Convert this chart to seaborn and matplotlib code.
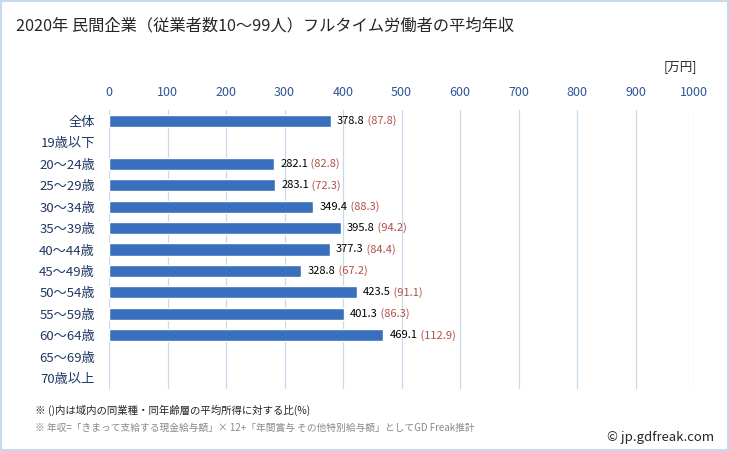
import numpy as np
import pandas as pd
import matplotlib
matplotlib.use("Agg")
import matplotlib.pyplot as plt
import seaborn as sns

# data
categories = ["全体", "19歳以下", "20～24歳", "25～29歳", "30～34歳", "35～39歳", "40～44歳",
              "45～49歳", "50～54歳", "55～59歳", "60～64歳", "65～69歳", "70歳以上"]
income = [378.8, np.nan, 282.1, 283.1, 349.4, 395.8, 377.3, 328.8, 423.5, 401.3, 469.1, np.nan, np.nan]
ratio = [87.8, np.nan, 82.8, 72.3, 88.3, 94.2, 84.4, 67.2, 91.1, 86.3, 112.9, np.nan, np.nan]
xticks = [0, 100, 200, 300, 400, 500, 600, 700, 800, 900, 1000]

df = pd.DataFrame({"age": categories, "income": income, "ratio": ratio})

sns.set_style("white")
plt.rcParams["font.family"] = ["Noto Sans CJK JP", "DejaVu Sans"]

fig = plt.figure(figsize=(7.29, 4.51), dpi=100)
ax = fig.add_axes([109 / 729, 1 - 389 / 451, 585 / 729, 279 / 451])

sns.barplot(data=df, x="income", y="age", orient="h", color="#3A6FBD",
            width=0.56, saturation=1, ax=ax, zorder=3)

ax.set_xlim(0, 1000)
ax.set_ylim(12.5, -0.5)
ax.set_xticks(xticks)
ax.xaxis.tick_top()
ax.tick_params(axis="x", length=0, labelsize=9, labelcolor="#2F5597", pad=8)
ax.tick_params(axis="y", length=0, labelsize=9.5, labelcolor="#1F3864", pad=10)
ax.set_xlabel("")
ax.set_ylabel("")
ax.grid(axis="x", color="#C9D9EC", linewidth=0.9, zorder=0)
for s in ax.spines.values():
    s.set_visible(False)

# value labels
for i, (v, r) in enumerate(zip(income, ratio)):
    if np.isnan(v):
        continue
    t = ax.text(v + 11, i, f"{v:.1f}", va="center", ha="left", fontsize=8, color="#000000")
    ax.annotate(f" ({r:.1f})", xy=(1, 0.5), xycoords=t, va="center", ha="left",
                fontsize=8, color="#B0504A")

fig.text(16 / 729, 1 - 26 / 451, "2020年 民間企業（従業者数10～99人）フルタイム労働者の平均年収",
         fontsize=11.7, va="center", ha="left")
fig.text(697 / 729, 1 - 67 / 451, "[万円]", fontsize=9, va="center", ha="right")
fig.text(35 / 729, 1 - 410 / 451, "※ ()内は域内の同業種・同年齢層の平均所得に対する比(%)",
         fontsize=7.5, va="center", ha="left")
fig.text(35 / 729, 1 - 428 / 451,
         "※ 年収=「きまって支給する現金給与額」× 12+「年間賞与 その他特別給与額」としてGD Freak推計",
         fontsize=7, va="center", ha="left", color="#888888")
fig.text(714 / 729, 1 - 437 / 451, "© jp.gdfreak.com", fontsize=9.5, va="center", ha="right")

# light border around the figure
fig.patches.append(plt.Rectangle((0.001, 0.002), 0.997, 0.995, transform=fig.transFigure,
                                 fill=False, edgecolor="#C9D9EC", linewidth=1.5))

fig.savefig("out.png", dpi=100)
